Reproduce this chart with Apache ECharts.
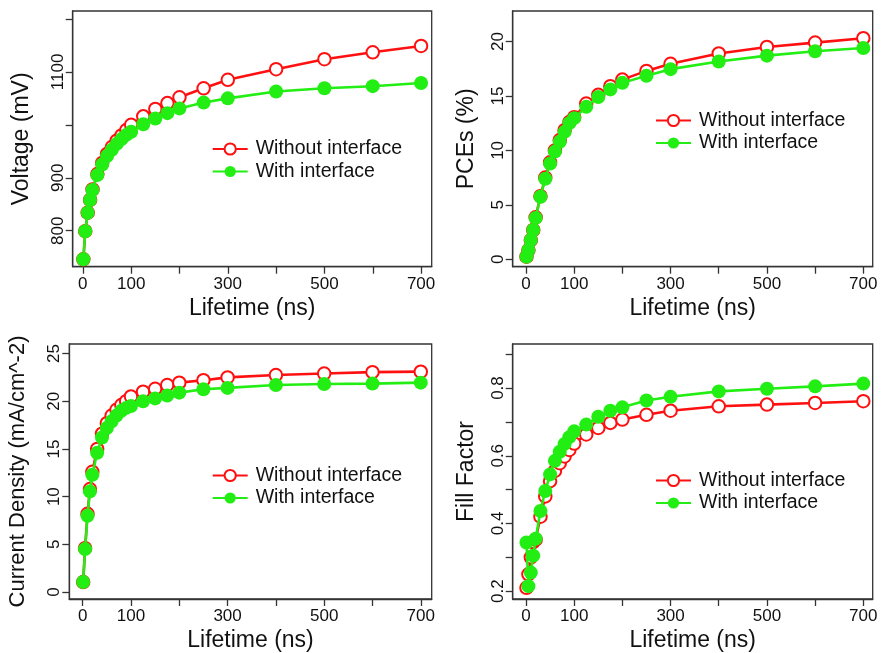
<!DOCTYPE html>
<html><head><meta charset="utf-8">
<script src="https://cdn.jsdelivr.net/npm/echarts@6/dist/echarts.min.js"></script>
<style>html,body{margin:0;padding:0;background:#fff}#c{width:881px;height:653px}</style>
</head><body><div id="c"></div>
<script>
// ---- data ----
const lifetime = [1,5,10,15,20,30,40,50,60,70,80,90,100,125,150,175,200,250,300,400,500,600,700];
const seriesNames = ['Without interface','With interface'];
const voltageWithout = [746,799,834,858,878,907,928,945,958,970,980,990,1000,1016,1030,1041,1052,1069,1085,1105,1124,1137,1149];
const voltageWith    = [746,799,834,858,877,905,925,941,953,964,973,981,987,1001,1012,1022,1031,1042,1050,1063,1069,1073,1079];
const pceWithout = [0.24,0.85,1.77,2.69,3.85,5.8,7.5,8.9,10.0,10.95,11.85,12.6,13.05,14.3,15.1,15.9,16.5,17.3,17.95,18.9,19.5,19.9,20.3];
const pceWith    = [0.24,0.85,1.77,2.69,3.8,5.75,7.4,8.8,9.89,10.8,11.7,12.5,12.96,14.0,14.9,15.6,16.2,16.85,17.46,18.16,18.7,19.1,19.4];
const jscWithout = [1.05,4.6,8.2,10.8,12.6,15.0,16.6,17.7,18.5,19.1,19.6,20.0,20.5,21.0,21.3,21.7,21.95,22.2,22.5,22.75,22.9,23.05,23.1];
const jscWith    = [1.05,4.5,8.0,10.55,12.3,14.6,16.2,17.2,17.9,18.5,19.0,19.3,19.5,20.0,20.3,20.6,20.9,21.25,21.4,21.7,21.8,21.85,21.95];
const ffWithout = [0.21,0.25,0.30,0.345,0.352,0.42,0.48,0.525,0.555,0.578,0.598,0.617,0.636,0.663,0.682,0.697,0.707,0.721,0.733,0.746,0.751,0.756,0.761];
const ffWith    = [0.344,0.215,0.255,0.305,0.355,0.437,0.496,0.545,0.585,0.612,0.635,0.655,0.672,0.692,0.715,0.733,0.743,0.763,0.774,0.79,0.798,0.805,0.813];

const xTicks = [0,100,200,300,400,500,600,700];
const xLabels = [0,100,300,500,700];
const yTicks = [[800,900,1000,1100,1200],[0,5,10,15,20],[0,5,10,15,20,25],[0.2,0.3,0.4,0.5,0.6,0.7,0.8,0.9]];
const yLabels = [[800,900,1100],[0,5,10,15,20],[0,5,10,15,20,25],[0.2,0.4,0.6,0.8]];
const yNames = ['Voltage (mV)','PCEs (%)','Current Density (mA/cm^-2)','Fill Factor'];
const xName = 'Lifetime (ns)';

// ---- layout ----
const FONT = 'Liberation Sans, Arial, sans-serif';
const RED = '#ff1010', GREEN = '#22ee14', AX = '#333';
const grids = [
  {left:72.7, top:11, width:359, height:255.7},
  {left:512.7, top:11, width:360, height:255.7},
  {left:69.3, top:344, width:362.4, height:257},
  {left:512.7, top:344, width:360, height:256}
];
const xRanges = [[-21,722],[-27.6,719.5],[-27.7,722.6],[-27.6,719.5]];
const yRanges = [[732,1215],[-0.68,22.8],[-0.73,26.0],[0.177,0.930]];
const legendPos = [{left:206.7, top:134},{left:650, top:105.5},{left:206.7, top:460.5},{left:650, top:465.5}];
const yNameSize = [23,23,22,23];
const pairs = [[voltageWithout,voltageWith],[pceWithout,pceWith],[jscWithout,jscWith],[ffWithout,ffWith]];
const yFmt = v => (Math.round(v*100)/100).toString();

const option = {animation:false, grid:[], xAxis:[], yAxis:[], series:[], legend:[]};
grids.forEach((g,i)=>{
  option.grid.push(Object.assign({show:true, borderColor:AX, borderWidth:1.3, backgroundColor:'#fff'}, g));
  option.xAxis.push({
    type:'value', gridIndex:i, min:xRanges[i][0], max:xRanges[i][1],
    name:xName, nameLocation:'middle', nameGap:30,
    nameTextStyle:{fontFamily:FONT, fontSize:23, color:'#111'},
    axisLine:{show:true, onZero:false, lineStyle:{color:AX, width:1.3}},
    axisTick:{show:true, length:7, customValues:xTicks, lineStyle:{color:AX, width:1.3}},
    axisLabel:{customValues:xLabels, formatter:yFmt, fontFamily:FONT, fontSize:17, color:'#111', margin:9},
    splitLine:{show:false}
  });
  option.yAxis.push({
    type:'value', gridIndex:i, min:yRanges[i][0], max:yRanges[i][1],
    name:yNames[i], nameLocation:'middle', nameGap: i%2===0 ? 40 : 35,
    nameTextStyle:{fontFamily:FONT, fontSize:yNameSize[i], color:'#111'},
    axisLine:{show:true, onZero:false, lineStyle:{color:AX, width:1.3}},
    axisTick:{show:true, length:7, customValues:yTicks[i], lineStyle:{color:AX, width:1.3}},
    axisLabel:{customValues:yLabels[i], formatter:yFmt, rotate:90, fontFamily:FONT, fontSize:17, color:'#111', margin:6},
    splitLine:{show:false}
  });
  const [w, wi] = pairs[i];
  option.series.push({
    type:'line', name:seriesNames[0], xAxisIndex:i, yAxisIndex:i,
    data: lifetime.map((x,k)=>[x,w[k]]),
    symbol:'emptyCircle', symbolSize:12.5,
    lineStyle:{color:RED, width:2.6}, itemStyle:{color:RED, borderColor:RED, borderWidth:2.4}, z:2
  });
  option.series.push({
    type:'line', name:seriesNames[1], xAxisIndex:i, yAxisIndex:i,
    data: lifetime.map((x,k)=>[x,wi[k]]),
    symbol:'circle', symbolSize:14,
    lineStyle:{color:GREEN, width:2.6}, itemStyle:{color:GREEN}, z:3
  });
  option.legend.push(Object.assign({
    orient:'vertical', data:seriesNames, itemWidth:35, itemHeight:14, itemGap:2.5,
    textStyle:{fontFamily:FONT, fontSize:19.5, lineHeight:20, color:'#111', padding:[0,0,0,3]},
    selectedMode:false
  }, legendPos[i]));
});
const chart = echarts.init(document.getElementById('c'), null, {renderer:'canvas'});
chart.setOption(option);
</script></body></html>
